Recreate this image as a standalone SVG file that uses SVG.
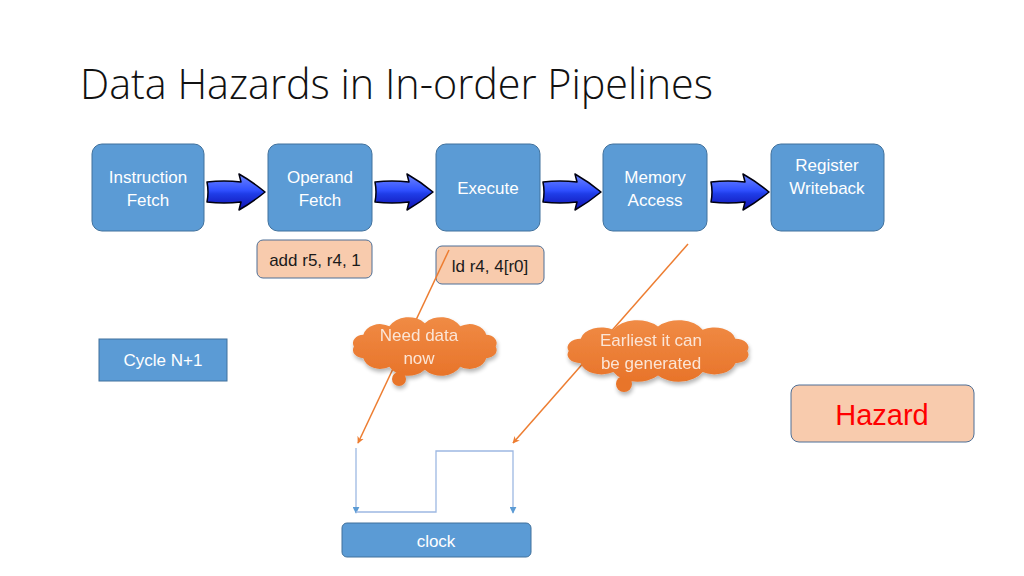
<svg xmlns="http://www.w3.org/2000/svg" width="1024" height="576" viewBox="0 0 1024 576">
<defs>
<style>
.stage{fill:#5B9BD5;stroke:#41719C;stroke-width:1}
.stxt{font-family:"Liberation Sans",Arial,sans-serif;font-size:17px;fill:#FFFFFF;text-anchor:middle}
.peach{fill:#F8CBAD;stroke:#4F6F96;stroke-width:1}
.dtxt{font-family:"Liberation Sans",Arial,sans-serif;font-size:17px;fill:#1a1a1a;text-anchor:middle}
.ctxt{font-family:"Liberation Sans",Arial,sans-serif;font-size:17px;fill:#FBE5D6;text-anchor:middle}
.cloud{fill:url(#cg)}
.orange{stroke:#ED7D31;stroke-width:1.5;fill:none}
.clk{stroke:#9DB8E2;stroke-width:1.3;fill:none}
.blk{fill:url(#ag);stroke:#000010;stroke-width:1.5;stroke-linejoin:round}
</style>
<linearGradient id="ag" x1="0" y1="0" x2="0" y2="1">
<stop offset="0" stop-color="#6f86ff"/>
<stop offset="0.45" stop-color="#3050ff"/>
<stop offset="0.55" stop-color="#1f3de8"/>
<stop offset="1" stop-color="#1010b0"/>
</linearGradient>
<linearGradient id="cg" x1="0" y1="0" x2="0" y2="1">
<stop offset="0" stop-color="#F08B45"/>
<stop offset="1" stop-color="#E8742A"/>
</linearGradient>
<filter id="sh" x="-10%" y="-10%" width="130%" height="140%">
<feGaussianBlur in="SourceAlpha" stdDeviation="2"/>
<feOffset dx="1" dy="3" result="o"/>
<feComponentTransfer><feFuncA type="linear" slope="0.3"/></feComponentTransfer>
<feMerge><feMergeNode/><feMergeNode in="SourceGraphic"/></feMerge>
</filter>
<path id="barrow" d="M0,-10 Q17,-12 34,-10 L32,-18 Q46,-10 58,0 Q46,10 32,18 L34,10 Q17,12 0,10 Q2,0 0,-10 Z"/>
<path id="cloudp" d="M137,36 A9.2,9.2 0 0 1 128.7,49 A14.8,14.8 0 0 1 106,58.5 A18.7,18.7 0 0 1 75,62 A18.7,18.7 0 0 1 44,58.5 A14.8,14.8 0 0 1 21.3,49 A9.2,9.2 0 0 1 13,36 A9.2,9.2 0 0 1 21.3,23 A14.8,14.8 0 0 1 44,13.5 A18.7,18.7 0 0 1 75,10 A18.7,18.7 0 0 1 106,13.5 A14.8,14.8 0 0 1 128.7,23 A9.2,9.2 0 0 1 137,36 Z"/>
<marker id="oa" viewBox="0 0 10 10" refX="9" refY="5" markerWidth="7" markerHeight="7" orient="auto" markerUnits="userSpaceOnUse">
<path d="M0,0 L10,5 L0,10 L3,5 Z" fill="#ED7D31"/>
</marker>
<marker id="ba" viewBox="0 0 10 10" refX="9" refY="5" markerWidth="7" markerHeight="7" orient="auto" markerUnits="userSpaceOnUse">
<path d="M0,0 L10,5 L0,10 Z" fill="#5B9BD5"/>
</marker>
</defs>
<rect width="1024" height="576" fill="#FFFFFF"/>
<text x="80" y="99" font-family="'Open Sans','Liberation Sans',sans-serif" font-weight="300" font-size="42" fill="#111111" textLength="633" lengthAdjust="spacingAndGlyphs">Data Hazards in In-order Pipelines</text>

<g id="stage-if"><rect class="stage" x="92" y="144" width="112" height="87" rx="10"/><text class="stxt" x="148" y="183">Instruction</text><text class="stxt" x="148" y="206">Fetch</text></g>
<g id="stage-of"><rect class="stage" x="268" y="144" width="104" height="87" rx="10"/><text class="stxt" x="320" y="183">Operand</text><text class="stxt" x="320" y="206">Fetch</text></g>
<g id="stage-ex"><rect class="stage" x="436" y="144" width="104" height="87" rx="10"/><text class="stxt" x="488" y="194">Execute</text></g>
<g id="stage-ma"><rect class="stage" x="603" y="144" width="104" height="87" rx="10"/><text class="stxt" x="655" y="183">Memory</text><text class="stxt" x="655" y="206">Access</text></g>
<g id="stage-wb"><rect class="stage" x="771" y="144" width="113" height="87" rx="10"/><text class="stxt" x="827" y="171">Register</text><text class="stxt" x="827" y="194">Writeback</text></g>

<g id="pipeline-arrows">
<use href="#barrow" class="blk" transform="translate(207,192)"/>
<use href="#barrow" class="blk" transform="translate(375,192)"/>
<use href="#barrow" class="blk" transform="translate(543,192)"/>
<use href="#barrow" class="blk" transform="translate(711,192)"/>
</g>

<g id="instr-add"><rect class="peach" x="257" y="240" width="115" height="38" rx="6"/><text class="dtxt" x="315" y="266">add r5, r4, 1</text></g>
<g id="instr-ld"><rect class="peach" x="436" y="246" width="108" height="38" rx="6"/><text class="dtxt" x="490" y="272">ld r4, 4[r0]</text></g>

<g id="cycle"><rect x="99" y="339" width="128" height="42" fill="#5B9BD5" stroke="#41719C" stroke-width="1"/><text class="stxt" x="163" y="366">Cycle N+1</text></g>

<g id="hazard"><rect class="peach" x="791" y="385" width="183" height="57" rx="8"/><text x="882" y="425" font-family="'Liberation Sans',Arial,sans-serif" font-size="29" fill="#FF0000" text-anchor="middle">Hazard</text></g>

<g id="clock"><rect x="342" y="523" width="189" height="34" rx="5" fill="#5B9BD5" stroke="#41719C" stroke-width="1"/><text class="stxt" x="436" y="547">clock</text></g>

<g id="connectors">
<line class="orange" x1="449" y1="250" x2="358" y2="443" marker-end="url(#oa)"/>
<line class="orange" x1="688" y1="244" x2="513" y2="443" marker-end="url(#oa)"/>
<line class="clk" x1="356" y1="448" x2="356" y2="513" marker-end="url(#ba)"/>
<polyline class="clk" points="356,512 436,512 436,451 513,451 513,513" marker-end="url(#ba)"/>
</g>

<g id="cloud-need" filter="url(#sh)">
<ellipse cx="399" cy="379" rx="7" ry="7" fill="#E8742A"/>
<use href="#cloudp" class="cloud" transform="translate(339,314.2) scale(1.144,0.897)"/>
<text class="ctxt" x="419" y="341">Need data</text>
<text class="ctxt" x="419" y="364">now</text>
</g>

<g id="cloud-earliest" filter="url(#sh)">
<ellipse cx="624" cy="384" rx="8" ry="8" fill="#E8742A"/>
<use href="#cloudp" class="cloud" transform="translate(550,317.1) scale(1.44,0.94)"/>
<text class="ctxt" x="651" y="346">Earliest it can</text>
<text class="ctxt" x="651" y="369">be generated</text>
</g>
</svg>
